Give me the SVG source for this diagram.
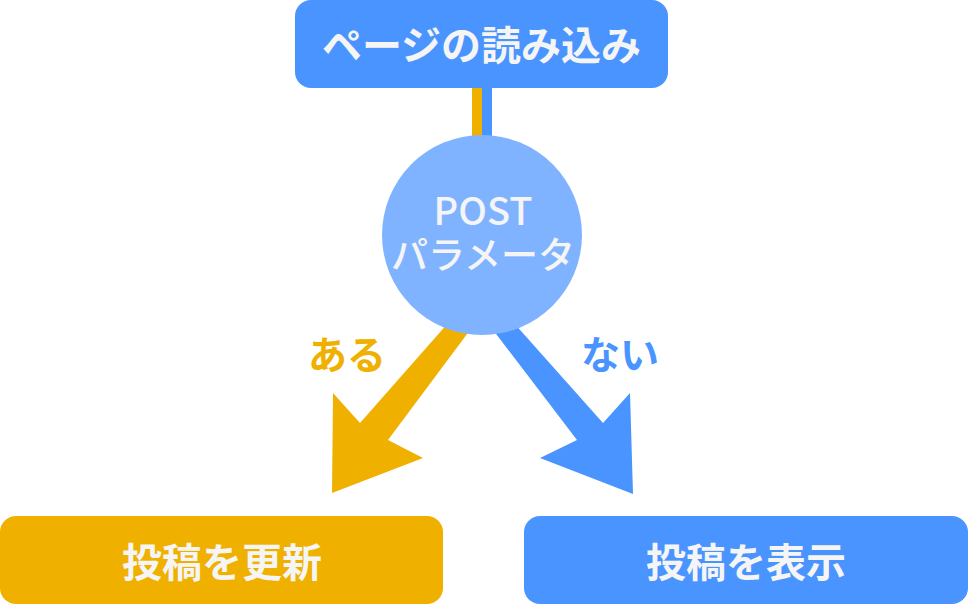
<svg xmlns="http://www.w3.org/2000/svg" width="968" height="604" viewBox="0 0 968 604">
<style>
.t{font-family:"Noto Sans CJK JP","Noto Sans",sans-serif;font-weight:bold;text-anchor:middle;fill:#f5f5f5}
.m{font-weight:500}
.lbl{font-family:"Noto Sans CJK JP","Noto Sans",sans-serif;font-weight:bold;text-anchor:middle}
.o{fill:#f0b000}.b{fill:#4a94ff}
</style>
<rect width="968" height="604" fill="#ffffff"/>
<g id="connectors">
<rect x="472" y="86" width="10" height="60" class="o"/>
<rect x="482" y="86" width="10" height="60" class="b"/>
<polygon class="o" points="449,322 476,322 388,440 423,458 332,493 333,393 360,423"/>
<polygon class="b" points="487,322 513,322 603,423 630,393 633,494 540,458 577,440"/>
</g>
<g id="load">
<rect x="295" y="0" width="373" height="88" rx="16" class="b"/>
<text class="t" x="481.5" y="60" font-size="40">ページの読み込み</text>
</g>
<g id="post">
<circle cx="482" cy="235" r="100" fill="#80b3ff"/>
<text class="t m" x="483" y="225" font-size="38">POST</text>
<text class="t m" x="483" y="269" font-size="37">パラメータ</text>
</g>
<g id="labels">
<text class="lbl o" x="347" y="369" font-size="39">ある</text>
<text class="lbl b" x="620" y="369" font-size="39">ない</text>
</g>
<g id="update">
<rect x="0" y="516" width="443" height="88" rx="16" class="o"/>
<text class="t" x="222" y="577" font-size="40">投稿を更新</text>
</g>
<g id="show">
<rect x="524" y="516" width="444" height="88" rx="16" class="b"/>
<text class="t" x="746" y="577" font-size="40">投稿を表示</text>
</g>
</svg>
